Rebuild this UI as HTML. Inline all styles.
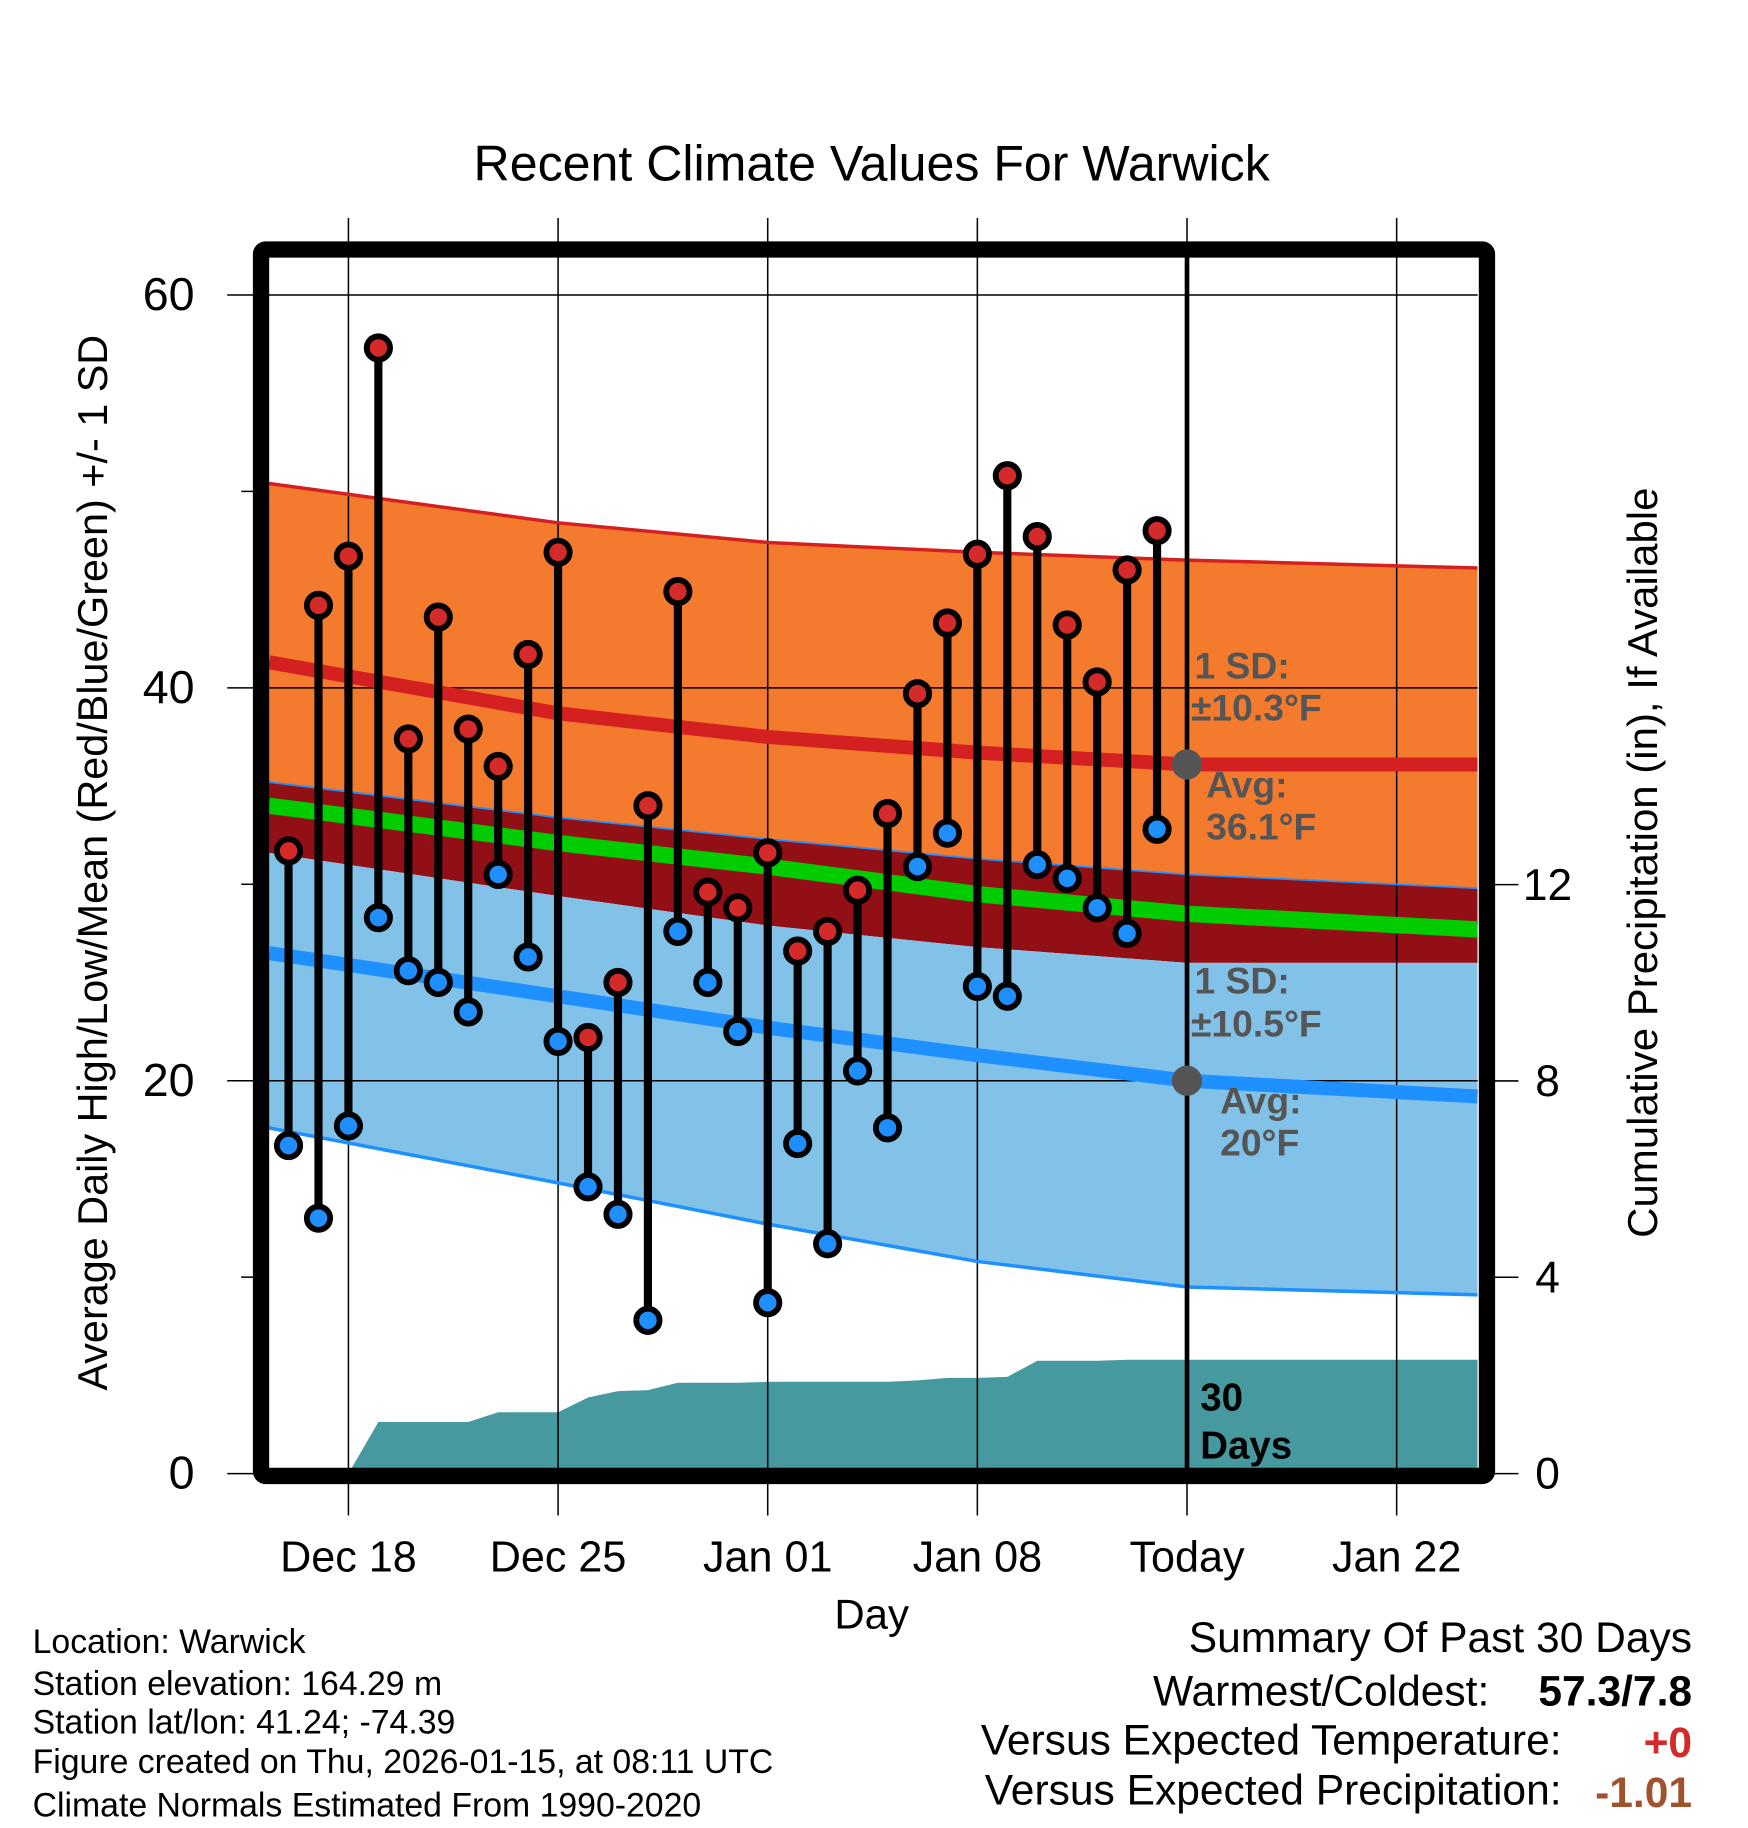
<!DOCTYPE html>
<html><head><meta charset="utf-8"><style>
html,body{margin:0;padding:0;background:#fff;}
svg{display:block;font-family:"Liberation Sans",Arial,sans-serif;}
</style></head><body>
<svg id="chart" width="1748" height="1828" viewBox="0 0 1500 1568" preserveAspectRatio="none" xmlns="http://www.w3.org/2000/svg">
<text x="748" y="155" font-size="43" text-anchor="middle">Recent Climate Values For Warwick</text>
<g id="bands"></g><g id="precip"></g><g id="grid"></g><g id="normLines"></g>
<g id="annot" fill="#555" font-weight="bold" font-size="32">
<text x="1025" y="582">1 SD:</text>
<text x="1022" y="618">±10.3°F</text>
<text x="1035" y="684">Avg:</text>
<text x="1035" y="720">36.1°F</text>
<text x="1025" y="852">1 SD:</text>
<text x="1022" y="889">±10.5°F</text>
<text x="1047" y="955">Avg:</text>
<text x="1047" y="991">20°F</text>
</g>
<text x="1030" y="1210" font-size="33" font-weight="bold">30</text>
<text x="1030" y="1251" font-size="33" font-weight="bold">Days</text>
<g id="obs"></g>
<rect x="224" y="214" width="1052" height="1052" fill="none" stroke="#000" stroke-width="14" rx="4"/>
<g id="axes" font-size="37"></g>
<text x="748" y="1397" font-size="36" text-anchor="middle">Day</text>
<text transform="translate(92,740) rotate(-90)" font-size="35.5" text-anchor="middle">Average Daily High/Low/Mean (Red/Blue/Green) +/- 1 SD</text>
<text transform="translate(1422,740) rotate(-90)" font-size="36" text-anchor="middle">Cumulative Precipitation (in), If Available</text>
<g font-size="29">
<text x="28" y="1418">Location: Warwick</text>
<text x="28" y="1454">Station elevation: 164.29 m</text>
<text x="28" y="1487">Station lat/lon: 41.24; -74.39</text>
<text x="28" y="1521">Figure created on Thu, 2026-01-15, at 08:11 UTC</text>
<text x="28" y="1558">Climate Normals Estimated From 1990-2020</text>
</g>
<g font-size="36.5">
<text x="1452" y="1417" text-anchor="end">Summary Of Past 30 Days</text>
<text x="1278" y="1463" text-anchor="end">Warmest/Coldest:</text>
<text x="1452" y="1463" text-anchor="end" font-weight="bold">57.3/7.8</text>
<text x="1340" y="1505" text-anchor="end">Versus Expected Temperature:</text>
<text x="1452" y="1507" text-anchor="end" font-weight="bold" fill="#d42a2a">+0</text>
<text x="1340" y="1548" text-anchor="end">Versus Expected Precipitation:</text>
<text x="1452" y="1550" text-anchor="end" font-weight="bold" fill="#a0522d">-1.01</text>
</g>
</svg>
<script>
// day index: 0 = Dec 18
const obsDays=[-2,-1,0,1,2,3,4,5,6,7,8,9,10,11,12,13,14,15,16,17,18,19,20,21,22,23,24,25,26,27];
const highs=[31.7,44.2,46.7,57.3,37.4,43.6,37.9,36.0,41.7,46.9,22.2,25.0,34.0,44.9,29.6,28.8,31.6,26.6,27.6,29.7,33.6,39.7,43.3,46.8,50.8,47.7,43.2,40.3,46.0,48.0];
const lows=[16.7,13.0,17.7,28.3,25.6,25.0,23.5,30.5,26.3,22.0,14.6,13.2,7.8,27.6,25.0,22.5,8.7,16.8,11.7,20.5,17.6,30.9,32.6,24.8,24.3,31.0,30.3,28.8,27.5,32.8];
const normDays=[-2.65,7,14,21,28,37.7];
const highUpper=[50.4,48.4,47.4,46.9,46.5,46.1];
const highAvg=[41.3,38.7,37.5,36.7,36.1,36.1];
const highLower=[35.2,33.4,32.3,31.3,30.5,29.8];
const meanAvg=[34.0,32.1,30.9,29.5,28.5,27.7];
const lowUpper=[31.6,29.4,27.9,26.8,26.0,26.0];
const lowAvg=[26.5,24.3,22.7,21.3,20.0,19.2];
const lowLower=[17.6,14.8,12.7,10.8,9.5,9.1];
const precipDays=[0,1,2,3,4,5,6,7,8,9,10,11,12,13,14,15,16,17,18,19,20,21,22,23,24,25,26,27,28,37.7];
const precipCum=[0,1.05,1.05,1.05,1.05,1.25,1.25,1.25,1.55,1.68,1.70,1.85,1.85,1.85,1.87,1.87,1.87,1.87,1.87,1.90,1.95,1.95,1.97,2.3,2.3,2.3,2.32,2.32,2.32,2.32];
const xTickDays=[0,7,14,21,28,35];
const xTickLabels=["Dec 18","Dec 25","Jan 01","Jan 08","Today","Jan 22"];
const yTicks=[0,20,40,60];
const yMinor=[10,30,50];
const y2Ticks=[0,4,8,12];

const NS="http://www.w3.org/2000/svg";
const X=d=>299+d*25.7;
const Y=v=>1264-v*16.85;
const Y2=p=>1264-p*42.1;
function mk(tag,attrs,parent){const e=document.createElementNS(NS,tag);for(const k in attrs)e.setAttribute(k,attrs[k]);document.getElementById(parent).appendChild(e);return e;}
function pts(arr){return normDays.map((d,i)=>X(d)+","+Y(arr[i]));}
function band(top,bot,fill,name){
  const p=pts(top).concat(pts(bot).reverse());
  const e=mk('polygon',{points:p.join(' '),fill:fill},'bands');
  
  
}
band(highUpper,highLower,'#f47b2e','high-sd-band');
band(highLower,lowUpper,'#920f16','overlap-band');
band(lowUpper,lowLower,'#82c1e8','low-sd-band');
{
  const p=[X(0)+","+Y2(0)];
  precipDays.forEach((d,i)=>p.push(X(d)+","+Y2(precipCum[i])));
  p.push(X(37.7)+","+Y2(0));
  const e=mk('polygon',{points:p.join(' '),fill:'#4799a0'},'precip');
  
  
}
xTickDays.forEach((d,i)=>{
  const l=mk('line',{x1:X(d),x2:X(d),y1:187,y2:1300,stroke:'#000','stroke-width':1.3},'grid');
  
  
  const t=mk('text',{x:X(d),y:1348,'text-anchor':'middle'},'axes');
  t.textContent=xTickLabels[i];
  
  
});
yTicks.forEach(v=>{
  const l=mk('line',{x1:195,x2:1268,y1:Y(v),y2:Y(v),stroke:'#000','stroke-width':1.3},'grid');
  
  
  const t=mk('text',{x:167,y:Y(v)+13,'text-anchor':'end','font-size':40},'axes');
  t.textContent=v;
  
  
});
yMinor.forEach(v=>{
  const l=mk('line',{x1:207,x2:220,y1:Y(v),y2:Y(v),stroke:'#000','stroke-width':1.3},'grid');
  
  
});
y2Ticks.forEach(v=>{
  const l=mk('line',{x1:1280,x2:1303,y1:Y2(v),y2:Y2(v),stroke:'#000','stroke-width':1.3},'grid');
  
  
  const t=mk('text',{x:1328,y:Y2(v)+13,'text-anchor':'middle','font-size':38},'axes');
  t.textContent=v;
  
  
});
function line(arr,color,w,name){
  const e=mk('polyline',{points:pts(arr).join(' '),fill:'none',stroke:color,'stroke-width':w},'normLines');
  
  
}
line(highUpper,'#d42020',3,'high-upper-sd-line');
line(highAvg,'#d42020',12,'high-avg-line');
line(highLower,'#1e90ff',1.5,'high-lower-sd-line');
line(meanAvg,'#00cc00',14,'mean-avg-line');
line(lowAvg,'#1e90ff',12,'low-avg-line');
line(lowLower,'#1e90ff',3,'low-lower-sd-line');
{
  const t=mk('line',{x1:X(28),x2:X(28),y1:220,y2:1262,stroke:'#000','stroke-width':4},'normLines');
  
  
  const c1=mk('circle',{cx:X(28),cy:Y(36.1),r:13,fill:'#555'},'normLines');
  
  
  const c2=mk('circle',{cx:X(28),cy:Y(20),r:13,fill:'#555'},'normLines');
  
  
}
obsDays.forEach((d,i)=>{
  const l=mk('line',{x1:X(d),x2:X(d),y1:Y(highs[i]),y2:Y(lows[i]),stroke:'#000','stroke-width':7},'obs');
  
  
  const h=mk('circle',{cx:X(d),cy:Y(highs[i]),r:10,fill:'#d42a2a',stroke:'#000','stroke-width':5},'obs');
  
  
  const lo=mk('circle',{cx:X(d),cy:Y(lows[i]),r:10,fill:'#1f8fff',stroke:'#000','stroke-width':5},'obs');
  
  
});
</script>
</body></html>
